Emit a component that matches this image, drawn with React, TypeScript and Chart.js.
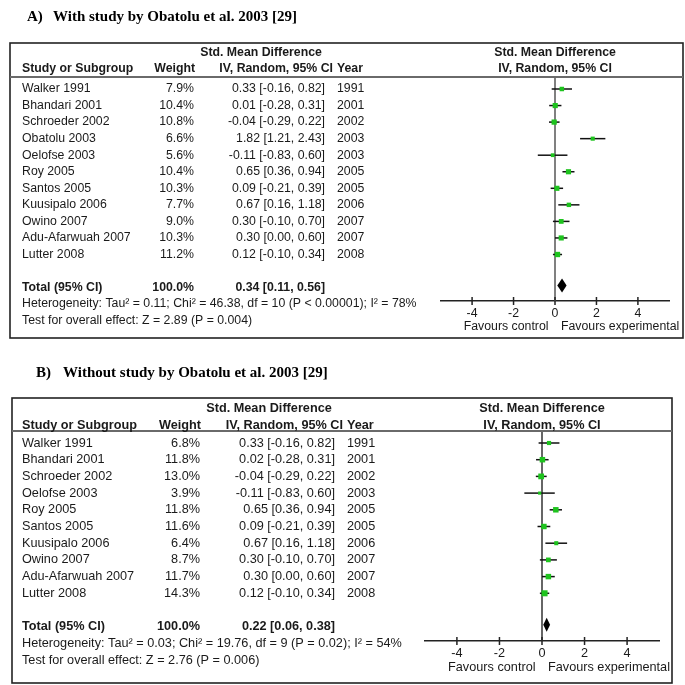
import React, { useEffect, useRef } from "react";
import { Chart, registerables } from "chart.js";

Chart.register(...registerables);

const SANS = '"Liberation Sans", Arial, Helvetica, sans-serif';
const SERIF = '"Liberation Serif", "Times New Roman", serif';
const GREEN = "#1ec31e";
const INK = "#1a1a1a";

// ---------- Panel A data ----------
const studiesA = ["Walker 1991", "Bhandari 2001", "Schroeder 2002", "Obatolu 2003", "Oelofse 2003", "Roy 2005", "Santos 2005", "Kuusipalo 2006", "Owino 2007", "Adu-Afarwuah 2007", "Lutter 2008"];
const weightsA = [7.9, 10.4, 10.8, 6.6, 5.6, 10.4, 10.3, 7.7, 9.0, 10.3, 11.2];
const estA = [0.33, 0.01, -0.04, 1.82, -0.11, 0.65, 0.09, 0.67, 0.30, 0.30, 0.12];
const lowA = [-0.16, -0.28, -0.29, 1.21, -0.83, 0.36, -0.21, 0.16, -0.10, 0.00, -0.10];
const highA = [0.82, 0.31, 0.22, 2.43, 0.60, 0.94, 0.39, 1.18, 0.70, 0.60, 0.34];
const yearsA = ["1991", "2001", "2002", "2003", "2003", "2005", "2005", "2006", "2007", "2007", "2008"];
const totalA = [0.34, 0.11, 0.56];
const hetA = "Heterogeneity: Tau\u00b2 = 0.11; Chi\u00b2 = 46.38, df = 10 (P < 0.00001); I\u00b2 = 78%";
const testA = "Test for overall effect: Z = 2.89 (P = 0.004)";

// ---------- Panel B data ----------
const studiesB = ["Walker 1991", "Bhandari 2001", "Schroeder 2002", "Oelofse 2003", "Roy 2005", "Santos 2005", "Kuusipalo 2006", "Owino 2007", "Adu-Afarwuah 2007", "Lutter 2008"];
const weightsB = [6.8, 11.8, 13.0, 3.9, 11.8, 11.6, 6.4, 8.7, 11.7, 14.3];
const estB = [0.33, 0.02, -0.04, -0.11, 0.65, 0.09, 0.67, 0.30, 0.30, 0.12];
const lowB = [-0.16, -0.28, -0.29, -0.83, 0.36, -0.21, 0.16, -0.10, 0.00, -0.10];
const highB = [0.82, 0.31, 0.22, 0.60, 0.94, 0.39, 1.18, 0.70, 0.60, 0.34];
const yearsB = ["1991", "2001", "2002", "2003", "2005", "2005", "2006", "2007", "2007", "2008"];
const totalB = [0.22, 0.06, 0.38];
const hetB = "Heterogeneity: Tau\u00b2 = 0.03; Chi\u00b2 = 19.76, df = 9 (P = 0.02); I\u00b2 = 54%";
const testB = "Test for overall effect: Z = 2.76 (P = 0.006)";

// ---------- shared axis ----------
const xTicks = [-4, -2, 0, 2, 4];
const xMin = -5.5;
const xMax = 5.5;

const fmt = (v: number) => v.toFixed(2);
const ciText = (e: number, lo: number, hi: number) => `${fmt(e)} [${fmt(lo)}, ${fmt(hi)}]`;

const panelA = {
  top: 0, height: 345,
  label: "A)", title: "With study by Obatolu et al. 2003 [29]", labelX: 27, titleX: 53, titleY: 17,
  box: [10, 43, 683, 338],
  headerLineY: 77, hdr1Y: 53, hdr2Y: 69, hdrCenterX: 261,
  nameX: 22, weightHdrR: 195, weightR: 194, ciHdrR: 333, ciR: 325, yearX: 337,
  rowY0: 89, rowH: 16.55, totalRow: 12,
  hetY: 304, testY: 321,
  plotLeft: 441, plotRight: 669, axisY: 301, favY: 327,
  fontSize: 12.3, zeroColor: "#808080", zeroWidth: 2,
  names: studiesA, weights: weightsA, est: estA, low: lowA, high: highA, years: yearsA, total: totalA, het: hetA, test: testA,
};

const panelB = {
  top: 345, height: 340,
  label: "B)", title: "Without study by Obatolu et al. 2003 [29]", labelX: 36, titleX: 63, titleY: 28,
  box: [12, 53, 672, 338],
  headerLineY: 86, hdr1Y: 63, hdr2Y: 80, hdrCenterX: 269,
  nameX: 22, weightHdrR: 201, weightR: 200, ciHdrR: 343, ciR: 335, yearX: 347,
  rowY0: 98, rowH: 16.7, totalRow: 11,
  hetY: 298, testY: 315,
  plotLeft: 425, plotRight: 659, axisY: 296, favY: 322,
  fontSize: 12.7, zeroColor: "#333333", zeroWidth: 1.5,
  names: studiesB, weights: weightsB, est: estB, low: lowB, high: highB, years: yearsB, total: totalB, het: hetB, test: testB,
};

const AXIS_BOX_H = 30;

function ForestPanel({ cfg }: { cfg: any }) {
  const ref = useRef<HTMLCanvasElement>(null);

  useEffect(() => {
    const canvas = ref.current!;
    const fs = cfg.fontSize;
    const regular = `${fs}px ${SANS}`;
    const bold = `bold ${fs}px ${SANS}`;

    const datasets: any[] = [];
    datasets.push({
      label: "estimate",
      data: cfg.est.map((e: number, i: number) => ({ x: e, y: i })),
      pointStyle: "rect",
      pointRadius: cfg.weights.map((w: number) => (1.6 * Math.sqrt(w)) / Math.SQRT2),
      backgroundColor: GREEN,
      borderColor: GREEN,
      borderWidth: 0,
      order: 0,
    });
    cfg.low.forEach((lo: number, i: number) => {
      datasets.push({
        label: "ci" + i,
        data: [{ x: lo, y: i }, { x: cfg.high[i], y: i }],
        showLine: true,
        borderColor: "#111",
        borderWidth: 1.5,
        pointRadius: 0,
        order: 1,
      });
    });

    const yMin = (cfg.headerLineY - cfg.rowY0) / cfg.rowH;
    const yMax = (cfg.axisY - cfg.rowY0) / cfg.rowH;

    const forestPlugin = {
      id: "forest",
      beforeDatasetsDraw(chart: any) {
        const ctx = chart.ctx;
        const xs = chart.scales.x;
        const area = chart.chartArea;
        const x0 = xs.getPixelForValue(0);
        ctx.save();
        ctx.strokeStyle = cfg.zeroColor;
        ctx.lineWidth = cfg.zeroWidth;
        ctx.beginPath();
        ctx.moveTo(x0, area.top);
        ctx.lineTo(x0, area.bottom);
        ctx.stroke();
        ctx.restore();
      },
      afterDatasetsDraw(chart: any) {
        const ctx = chart.ctx;
        const xs = chart.scales.x;
        const ys = chart.scales.y;
        const [te, tl, th] = cfg.total;
        const yc = ys.getPixelForValue(cfg.totalRow) - 2;
        ctx.save();
        ctx.fillStyle = "#000";
        ctx.beginPath();
        ctx.moveTo(xs.getPixelForValue(tl), yc);
        ctx.lineTo(xs.getPixelForValue(te), yc - 7);
        ctx.lineTo(xs.getPixelForValue(th), yc);
        ctx.lineTo(xs.getPixelForValue(te), yc + 7);
        ctx.closePath();
        ctx.fill();
        ctx.restore();
      },
      afterDraw(chart: any) {
        const ctx = chart.ctx;
        const xs = chart.scales.x;
        const ys = chart.scales.y;
        const area = chart.chartArea;
        ctx.save();

        // tick marks crossing the axis
        ctx.strokeStyle = "#222";
        ctx.lineWidth = 1.5;
        xs.ticks.forEach((t: any) => {
          const px = xs.getPixelForValue(t.value);
          ctx.beginPath();
          ctx.moveTo(px, area.bottom - 4);
          ctx.lineTo(px, area.bottom + 4);
          ctx.stroke();
        });

        // box
        const [bx1, by1, bx2, by2] = cfg.box;
        ctx.strokeStyle = "#222";
        ctx.lineWidth = 1.6;
        ctx.strokeRect(bx1, by1, bx2 - bx1, by2 - by1);
        ctx.strokeStyle = "#6a6a6a";
        ctx.lineWidth = 2;
        ctx.beginPath();
        ctx.moveTo(bx1, cfg.headerLineY);
        ctx.lineTo(bx2, cfg.headerLineY);
        ctx.stroke();

        // title
        ctx.fillStyle = "#000";
        ctx.textBaseline = "middle";
        ctx.textAlign = "left";
        ctx.font = `bold 15px ${SERIF}`;
        ctx.fillText(cfg.label, cfg.labelX, cfg.titleY);
        ctx.fillText(cfg.title, cfg.titleX, cfg.titleY);

        ctx.fillStyle = INK;
        // headers
        ctx.font = bold;
        ctx.textAlign = "center";
        ctx.fillText("Std. Mean Difference", cfg.hdrCenterX, cfg.hdr1Y);
        const pc = (area.left + area.right) / 2;
        ctx.fillText("Std. Mean Difference", pc, cfg.hdr1Y);
        ctx.fillText("IV, Random, 95% CI", pc, cfg.hdr2Y);
        ctx.textAlign = "left";
        ctx.fillText("Study or Subgroup", cfg.nameX, cfg.hdr2Y);
        ctx.fillText("Year", cfg.yearX, cfg.hdr2Y);
        ctx.textAlign = "right";
        ctx.fillText("Weight", cfg.weightHdrR, cfg.hdr2Y);
        ctx.fillText("IV, Random, 95% CI", cfg.ciHdrR, cfg.hdr2Y);

        // study rows
        ctx.font = regular;
        cfg.names.forEach((nm: string, i: number) => {
          const y = ys.getPixelForValue(i);
          ctx.textAlign = "left";
          ctx.fillText(nm, cfg.nameX, y);
          ctx.fillText(cfg.years[i], cfg.yearX, y);
          ctx.textAlign = "right";
          ctx.fillText(cfg.weights[i].toFixed(1) + "%", cfg.weightR, y);
          ctx.fillText(ciText(cfg.est[i], cfg.low[i], cfg.high[i]), cfg.ciR, y);
        });

        // total row
        const ty = ys.getPixelForValue(cfg.totalRow);
        ctx.font = bold;
        ctx.textAlign = "left";
        ctx.fillText("Total (95% CI)", cfg.nameX, ty);
        ctx.textAlign = "right";
        ctx.fillText("100.0%", cfg.weightR, ty);
        ctx.fillText(ciText(cfg.total[0], cfg.total[1], cfg.total[2]), cfg.ciR, ty);

        // heterogeneity & test
        ctx.font = regular;
        ctx.textAlign = "left";
        ctx.fillText(cfg.het, cfg.nameX, cfg.hetY);
        ctx.fillText(cfg.test, cfg.nameX, cfg.testY);

        // favours labels
        const x0 = xs.getPixelForValue(0);
        ctx.textAlign = "right";
        ctx.fillText("Favours control", x0 - 6.5, cfg.favY);
        ctx.textAlign = "left";
        ctx.fillText("Favours experimental", x0 + 6, cfg.favY);

        ctx.restore();
      },
    };

    const chart = new Chart(canvas, {
      type: "scatter",
      data: { datasets },
      options: {
        responsive: false,
        animation: false,
        devicePixelRatio: 1,
        events: [],
        layout: {
          padding: {
            left: cfg.plotLeft,
            right: 685 - cfg.plotRight,
            top: cfg.headerLineY,
            bottom: cfg.height - cfg.axisY - AXIS_BOX_H,
          },
        },
        plugins: { legend: { display: false }, tooltip: { enabled: false }, title: { display: false } },
        scales: {
          x: {
            type: "linear",
            min: xMin,
            max: xMax,
            afterBuildTicks: (s: any) => {
              s.ticks = xTicks.map((v) => ({ value: v }));
            },
            afterFit: (s: any) => {
              s.height = AXIS_BOX_H;
            },
            grid: { display: false, drawTicks: false },
            border: { display: true, color: "#222", width: 1.5 },
            ticks: {
              padding: 5,
              color: INK,
              font: { family: SANS, size: fs },
              callback: (v: any) => String(v),
            },
          },
          y: { type: "linear", display: false, reverse: true, min: yMin, max: yMax },
        },
      },
      plugins: [forestPlugin],
    } as any);

    return () => chart.destroy();
  }, [cfg]);

  return (
    <canvas
      ref={ref}
      width={685}
      height={cfg.height}
      style={{ position: "absolute", left: 0, top: cfg.top, width: 685, height: cfg.height }}
    />
  );
}

export default function App() {
  return (
    <div style={{ position: "absolute", left: 0, top: 0, width: 685, height: 685, background: "#fff", overflow: "hidden" }}>
      <ForestPanel cfg={panelA} />
      <ForestPanel cfg={panelB} />
    </div>
  );
}
